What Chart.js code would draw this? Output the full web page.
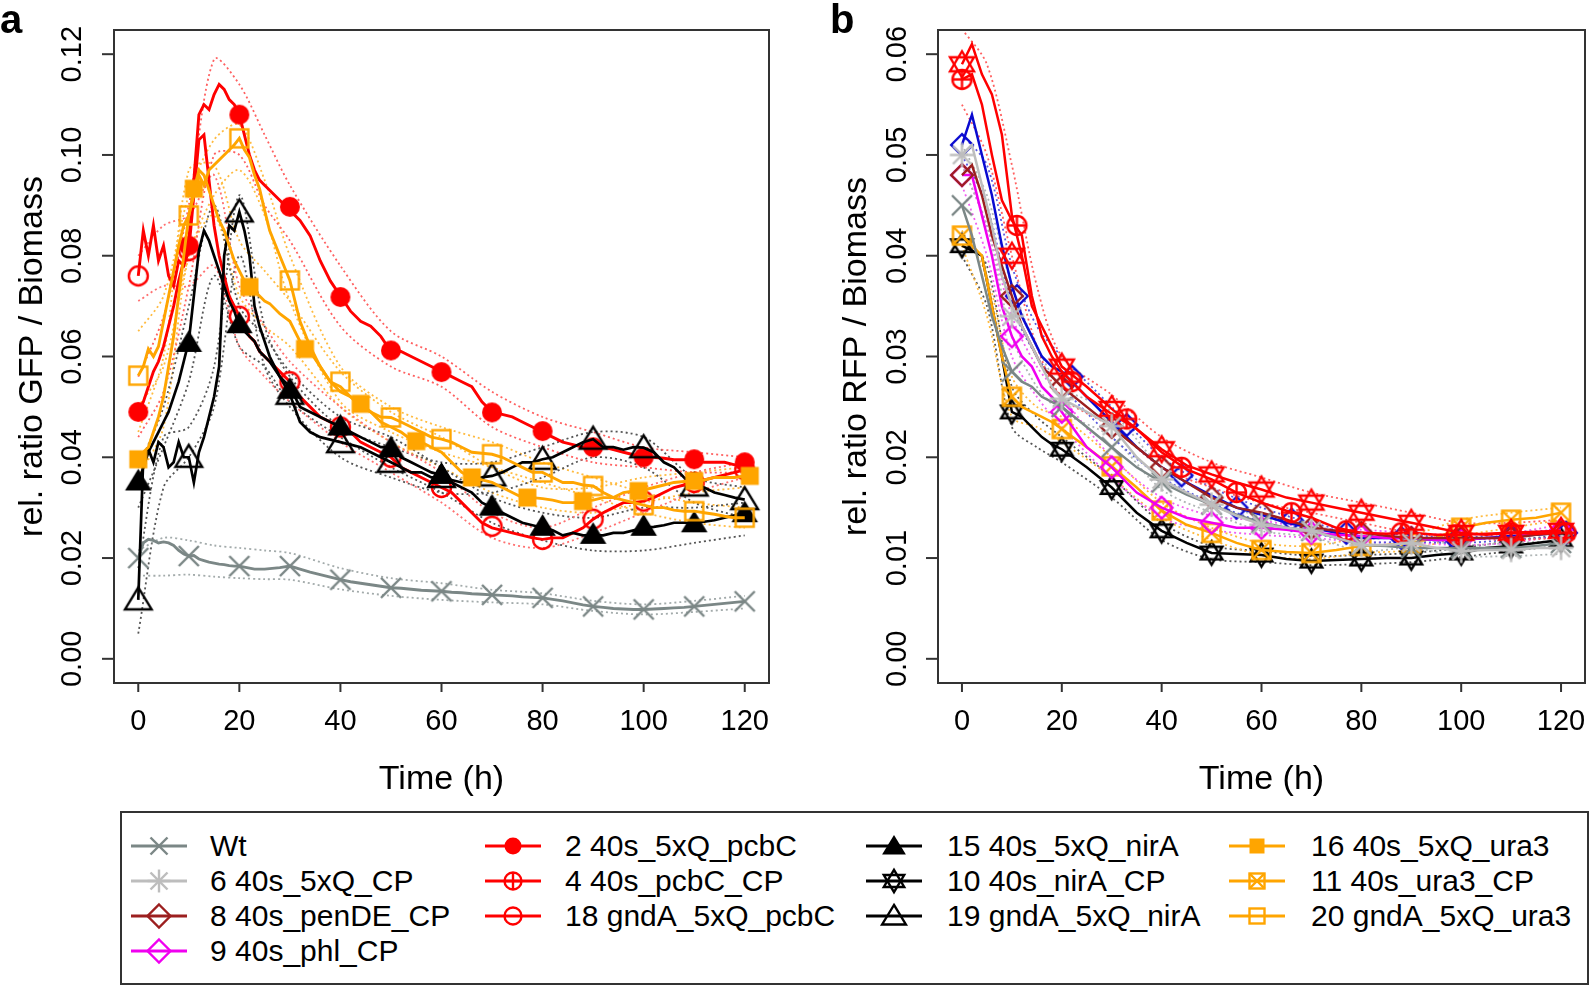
<!DOCTYPE html>
<html>
<head>
<meta charset="utf-8">
<script src="https://cdn.jsdelivr.net/npm/chart.js"></script>
<style>
  body { margin: 0; width: 1595px; height: 990px; background: #fff; position: relative; overflow: hidden;
         font-family: "Liberation Sans", Arial, sans-serif; }
  canvas.panel { position: absolute; top: 0; }
  #cA { left: 0; }
  #cB { left: 800px; }
  #legendBox { position: absolute; left: 120px; top: 811px; width: 1469px; height: 174px;
               box-sizing: border-box; border: 2px solid #333; }
  .lgText { position: absolute; font-size: 30px; line-height: 34px; color: #000; white-space: nowrap; }
  .lgSym { position: absolute; }
</style>
</head>
<body>
<canvas id="cA" class="panel" width="800" height="800"></canvas>
<canvas id="cB" class="panel" width="795" height="800"></canvas>
<div id="legendBox"></div>
<script>
// time grids (h)
const tA = [0,1,2,3,4,5,6,7,8,9,10,11,12,13,14,15,16,17,18,19,20,21,22,23,24,25,26,
  28,30,32,34,36,38,40,42,44,46,48,50,52,54,56,58,60,62,64,66,68,70,72,74,76,78,80,
  82,84,86,88,90,92,94,96,98,100,102,104,106,108,110,112,114,116,118,120];
const tB = [0,2,4,6,8,10,12,14,16,18,20,25,30,35,40,45,50,55,60,65,70,75,80,85,90,95,100,105,110,115,120];
const tBandA = [0,5,10,15,20,25,30,40,50,60,70,80,90,100,110,120];
const tBandB = [0,5,10,15,20,30,40,50,60,70,80,90,100,110,120];
const mk10 = [0,10,20,30,40,50,60,70,80,90,100,110,120];
const mk11 = [0,11,22,33,44,55,66,77,88,99,110,121];

// ---- panel a: rel. ratio GFP / Biomass ----
const wtA = [0.020,0.023,0.0237,0.0235,0.023,0.0232,0.023,0.0225,0.0215,0.0208,0.0204,0.0205,0.0198,0.0195,0.0192,0.019,0.0188,0.0187,0.0185,0.0184,0.0184,0.0182,0.018,0.0178,0.0178,0.0178,0.0179,
  0.0181,0.0184,0.0178,0.0172,0.0167,0.0162,0.0157, 0.0153,0.015,0.0147,0.0144,0.0141, 0.014,0.0138,0.0136,0.0135,0.0134,
  0.0132,0.0131,0.0129,0.0128,0.0127, 0.0126,0.0125,0.0123,0.0122,0.0121, 0.0118,0.0115,0.0111,0.0107,0.0104,
  0.0102,0.01,0.0099,0.0098,0.0098, 0.0099,0.01,0.0101,0.0102,0.0104, 0.0106,0.0108,0.011,0.0112,0.0114];
const s2A = [0.049,0.051,0.054,0.057,0.059,0.062,0.066,0.070,0.075,0.079,0.083,0.095,0.108,0.110,0.109,0.112,0.114,0.113,0.111,0.110,0.108,0.104,0.100,0.097,0.095,0.094,0.093,
  0.091,0.089,0.087,0.084,0.079,0.075,0.072, 0.069,0.067,0.066,0.064,0.061, 0.061,0.060,0.059,0.058,0.057,
  0.056,0.055,0.054,0.051,0.049, 0.0485,0.048,0.047,0.046,0.045, 0.044,0.043,0.0425,0.042,0.042,
  0.042,0.0415,0.041,0.0405,0.040, 0.040,0.0398,0.0395,0.0395,0.0395, 0.039,0.039,0.039,0.0385,0.0385];
const s18A = [0.076,0.085,0.080,0.086,0.079,0.082,0.076,0.074,0.079,0.078,0.081,0.092,0.103,0.104,0.095,0.086,0.080,0.076,0.072,0.070,0.068,0.066,0.064,0.063,0.061,0.060,0.059,
  0.057,0.055,0.052,0.050,0.048,0.047,0.046, 0.045,0.043,0.042,0.041,0.040, 0.038,0.037,0.036,0.035,0.034,
  0.033,0.031,0.029,0.027,0.026, 0.0255,0.025,0.0245,0.024,0.0237, 0.024,0.024,0.025,0.026,0.0277,
  0.029,0.030,0.031,0.031,0.0313, 0.032,0.033,0.034,0.0345,0.035, 0.0355,0.036,0.0365,0.037,0.0375];
const s15A = [0.035,0.038,0.041,0.043,0.045,0.047,0.049,0.052,0.055,0.059,0.063,0.072,0.081,0.085,0.083,0.080,0.077,0.074,0.071,0.069,0.066,0.065,0.064,0.063,0.061,0.060,0.059,
  0.056,0.054,0.050,0.049,0.048,0.047,0.046, 0.045,0.044,0.043,0.042,0.042, 0.040,0.039,0.038,0.037,0.0365,
  0.035,0.034,0.033,0.031,0.030, 0.029,0.028,0.027,0.0265,0.026, 0.0255,0.0245,0.025,0.0245,0.0245,
  0.0245,0.025,0.025,0.0255,0.026, 0.0262,0.0265,0.027,0.027,0.027, 0.0272,0.0275,0.028,0.0285,0.029];
const s19A = [0.0117,0.040,0.0416,0.039,0.043,0.042,0.038,0.039,0.043,0.040,0.040,0.035,0.041,0.044,0.048,0.052,0.058,0.080,0.086,0.085,0.0887,0.085,0.080,0.070,0.066,0.063,0.060,
  0.056,0.0525,0.047,0.045,0.044,0.0435,0.043, 0.0425,0.042,0.041,0.040,0.039, 0.038,0.037,0.037,0.036,0.036,
  0.0355,0.035,0.0355,0.036,0.0363, 0.037,0.038,0.039,0.039,0.0396, 0.040,0.041,0.042,0.043,0.0436,
  0.042,0.042,0.0415,0.042,0.0419, 0.041,0.039,0.038,0.036,0.0343, 0.034,0.033,0.0325,0.032,0.0316];
const s16A = [0.0396,0.041,0.042,0.045,0.048,0.052,0.058,0.064,0.072,0.080,0.088,0.093,0.097,0.096,0.093,0.090,0.087,0.085,0.082,0.079,0.077,0.075,0.0738,0.073,0.072,0.071,0.0705,
  0.0685,0.067,0.063,0.061,0.058,0.055,0.053, 0.052,0.0506,0.049,0.047,0.046, 0.045,0.0435,0.043,0.042,0.041,
  0.039,0.037,0.036,0.0355,0.035, 0.034,0.033,0.032,0.032,0.0318, 0.0315,0.031,0.031,0.0313,0.0315,
  0.032,0.032,0.033,0.0333,0.0335, 0.034,0.0345,0.035,0.0352,0.0353, 0.0355,0.036,0.036,0.036,0.0363];
const s20A = [0.0562,0.058,0.0615,0.060,0.062,0.067,0.072,0.077,0.082,0.086,0.088,0.092,0.096,0.094,0.097,0.098,0.099,0.100,0.101,0.102,0.1033,0.101,0.0995,0.096,0.0933,0.089,0.085,
  0.080,0.0751,0.067,0.062,0.058,0.055,0.054, 0.052,0.050,0.049,0.048,0.0479, 0.047,0.046,0.045,0.044,0.0436,
  0.043,0.042,0.041,0.0408,0.0406, 0.040,0.039,0.038,0.037,0.037, 0.036,0.035,0.035,0.0345,0.0343,
  0.033,0.032,0.0315,0.031,0.0305, 0.030,0.030,0.0295,0.0293,0.0293, 0.029,0.0287,0.0283,0.028,0.028];

// markers, panel a
const wtAMk  = [0.020,0.0204,0.0184,0.0184,0.0157,0.0141,0.0134,0.0127,0.0121,0.0104,0.0098,0.0104,0.0114];
const s2AMk  = [0.049,0.082,0.108,0.0897,0.0718,0.0612,0.0569,0.0489,0.0452,0.042,0.040,0.0396,0.039];
const s18AMk = [0.076,0.081,0.068,0.055,0.046,0.040,0.034,0.0263,0.0237,0.0277,0.0313,0.035,0.0375];
const s15AMk = [0.0353,0.0628,0.0665,0.0535,0.0462,0.0419,0.0366,0.0303,0.0263,0.0247,0.0263,0.027,0.029];
const s19AMk = [0.0117,0.040,0.0887,0.0525,0.0429,0.039,0.036,0.0363,0.0396,0.0436,0.0419,0.0343,0.0316];
const s16AMk = [0.0396,0.0933,0.0738,0.0615,0.0506,0.0432,0.036,0.032,0.0313,0.0333,0.0353,0.0363];
const s20AMk = [0.0562,0.088,0.1033,0.0751,0.055,0.0479,0.0436,0.0406,0.037,0.0343,0.0305,0.0293,0.028];

// dotted bands, panel a
const wtAUp  = [0.0215,0.024,0.0235,0.0225,0.022,0.0215,0.021,0.018,0.016,0.015,0.0137,0.013,0.0115,0.0108,0.0115,0.0125];
const wtALo  = [0.0165,0.0165,0.0167,0.0163,0.016,0.0158,0.0157,0.0138,0.0125,0.0117,0.0112,0.0108,0.0095,0.0088,0.0093,0.0100];
const s2AUp  = [0.056,0.068,0.090,0.119,0.114,0.104,0.094,0.078,0.065,0.060,0.053,0.048,0.045,0.042,0.041,0.040];
const s2ALo  = [0.044,0.053,0.074,0.100,0.100,0.090,0.083,0.066,0.058,0.054,0.046,0.042,0.039,0.038,0.037,0.037];
const s18AUp = [0.080,0.086,0.088,0.096,0.074,0.066,0.059,0.050,0.043,0.037,0.029,0.026,0.030,0.034,0.037,0.039];
const s18ALo = [0.071,0.074,0.074,0.078,0.062,0.056,0.051,0.043,0.037,0.031,0.024,0.022,0.025,0.029,0.033,0.036];
const s15AUp = [0.038,0.050,0.070,0.090,0.070,0.064,0.057,0.048,0.044,0.038,0.032,0.029,0.028,0.030,0.030,0.031];
const s15ALo = [0.030,0.042,0.055,0.076,0.062,0.058,0.051,0.044,0.038,0.033,0.027,0.0235,0.0215,0.0215,0.023,0.0245];
const s19AUp = [0.018,0.044,0.046,0.058,0.092,0.066,0.056,0.046,0.042,0.039,0.039,0.042,0.045,0.044,0.036,0.034];
const s19ALo = [0.005,0.034,0.040,0.050,0.080,0.058,0.050,0.040,0.036,0.033,0.033,0.036,0.040,0.038,0.031,0.028];
const s16AUp = [0.045,0.060,0.097,0.098,0.083,0.077,0.071,0.057,0.049,0.044,0.038,0.034,0.034,0.036,0.037,0.038];
const s16ALo = [0.036,0.046,0.080,0.088,0.072,0.066,0.062,0.050,0.043,0.038,0.033,0.030,0.029,0.031,0.033,0.034];
const s20AUp = [0.065,0.072,0.092,0.103,0.106,0.095,0.080,0.058,0.050,0.046,0.043,0.039,0.036,0.033,0.031,0.030];
const s20ALo = [0.050,0.058,0.080,0.092,0.097,0.088,0.071,0.051,0.045,0.041,0.038,0.035,0.032,0.029,0.027,0.026];

// ---- panel b: rel. ratio RFP / Biomass ----
const wtB   = [0.045,0.042,0.038,0.034,0.031,0.0285,0.0275,0.027,0.026,0.0255,0.025,0.023,0.021,0.019,0.0175,0.0163,0.0153,0.0143,0.0135,0.013,0.0127,0.012,0.0113,0.0112,0.011,0.011,0.011,0.011,0.011,0.0112,0.0115];
const s6B   = [0.050,0.051,0.047,0.043,0.038,0.035,0.033,0.031,0.029,0.027,0.0258,0.0245,0.0231,0.020,0.0178,0.0165,0.0153,0.0142,0.0133,0.013,0.0127,0.012,0.0113,0.0113,0.0115,0.011,0.0107,0.0108,0.0108,0.011,0.011];
const s8B   = [0.048,0.049,0.046,0.042,0.039,0.036,0.033,0.031,0.029,0.028,0.027,0.025,0.023,0.021,0.019,0.0175,0.016,0.015,0.0145,0.0138,0.013,0.0127,0.0125,0.0122,0.012,0.012,0.012,0.012,0.012,0.0123,0.0125];
const s9B   = [0.048,0.048,0.044,0.040,0.035,0.032,0.030,0.029,0.027,0.026,0.0245,0.021,0.019,0.0165,0.015,0.014,0.0135,0.013,0.013,0.0128,0.0125,0.0123,0.0122,0.012,0.012,0.0118,0.0118,0.012,0.012,0.0125,0.0128];
const blueB = [0.051,0.054,0.050,0.046,0.041,0.037,0.034,0.032,0.030,0.029,0.0285,0.026,0.0235,0.021,0.019,0.0175,0.0162,0.015,0.0143,0.0135,0.013,0.0125,0.012,0.012,0.012,0.0118,0.0118,0.012,0.0122,0.0123,0.0125];
const s4B   = [0.0575,0.058,0.055,0.050,0.0455,0.0435,0.042,0.036,0.032,0.030,0.0285,0.026,0.0243,0.0228,0.0205,0.0188,0.0178,0.0165,0.0155,0.0147,0.014,0.013,0.0125,0.0124,0.0125,0.0123,0.0123,0.0124,0.0125,0.0124,0.0125];
const redStarB = [0.059,0.061,0.058,0.056,0.052,0.044,0.040,0.035,0.033,0.031,0.029,0.027,0.0248,0.0228,0.0208,0.0192,0.0183,0.0175,0.0168,0.016,0.0155,0.015,0.0145,0.014,0.0135,0.013,0.0125,0.0123,0.0125,0.0126,0.0127];
const s10B  = [0.041,0.0405,0.040,0.035,0.030,0.0245,0.024,0.023,0.022,0.0213,0.0208,0.019,0.017,0.0145,0.0127,0.0115,0.0105,0.0104,0.0103,0.0099,0.0097,0.0098,0.0099,0.01,0.01,0.0103,0.0105,0.011,0.0112,0.0115,0.0118];
const s11B  = [0.042,0.041,0.040,0.035,0.030,0.026,0.025,0.0245,0.024,0.0235,0.0228,0.021,0.0191,0.017,0.0147,0.0133,0.0125,0.0115,0.0108,0.0106,0.0105,0.0108,0.0112,0.0113,0.0115,0.012,0.013,0.0135,0.0138,0.014,0.0145];

// markers, panel b
const wtBMk   = [0.045,0.0285,0.025,0.021,0.0175,0.0153,0.0135,0.0127,0.0113,0.011,0.011,0.011,0.0115];
const s6BMk   = [0.050,0.034,0.0258,0.0231,0.0178,0.0153,0.0133,0.0127,0.0113,0.0115,0.0107,0.0108,0.011];
const s8BMk   = [0.048,0.036,0.027,0.023,0.019,0.016,0.0145,0.013,0.0125,0.012,0.012,0.012,0.0125];
const s9BMk   = [0.048,0.032,0.0245,0.019,0.015,0.0135,0.013,0.0125,0.0122,0.012,0.0118,0.012,0.0128];
const blueBMk = [0.051,0.036,0.028,0.0232,0.0182,0.015,0.0138,0.0125,0.012,0.0118,0.0122,0.0125];
const s4BMk   = [0.0575,0.043,0.0275,0.0238,0.019,0.0165,0.0145,0.0127,0.0125,0.0123,0.0125,0.0125];
const redStarBMk = [0.059,0.040,0.029,0.0248,0.0208,0.0183,0.0168,0.0155,0.0145,0.0135,0.0125,0.0125,0.0127];
const s10BMk  = [0.041,0.0245,0.0208,0.017,0.0127,0.0105,0.0103,0.0097,0.0099,0.01,0.0105,0.0112,0.0118];
const s11BMk  = [0.042,0.026,0.0228,0.0191,0.0147,0.0125,0.0108,0.0105,0.0112,0.0115,0.013,0.0138,0.0145];

// dotted bands, panel b
const redBUp  = [0.0625,0.059,0.049,0.037,0.030,0.0262,0.022,0.0195,0.018,0.0165,0.0155,0.0145,0.0135,0.0135,0.0138];
const redBLo  = [0.055,0.050,0.040,0.031,0.026,0.023,0.019,0.017,0.0155,0.0145,0.0135,0.0125,0.012,0.0118,0.012];
const blueBUp = [0.052,0.049,0.039,0.033,0.030,0.025,0.020,0.017,0.015,0.0135,0.0125,0.0123,0.012,0.0125,0.0128];
const blueBLo = [0.050,0.045,0.035,0.030,0.027,0.022,0.018,0.0155,0.0136,0.0125,0.0116,0.0116,0.0115,0.0118,0.0121];
const grayBUp = [0.051,0.046,0.037,0.031,0.027,0.0245,0.019,0.0162,0.014,0.0133,0.012,0.012,0.0113,0.0115,0.0117];
const grayBLo = [0.049,0.043,0.032,0.027,0.0245,0.022,0.0168,0.0145,0.0127,0.0121,0.0107,0.011,0.0102,0.0102,0.0104];
const magBUp  = [0.049,0.043,0.034,0.029,0.026,0.020,0.016,0.0142,0.0137,0.013,0.0128,0.0125,0.0123,0.0125,0.0133];
const magBLo  = [0.047,0.040,0.030,0.026,0.023,0.018,0.014,0.0128,0.0123,0.012,0.0116,0.0115,0.0113,0.0115,0.0123];
const orBUp   = [0.0425,0.038,0.028,0.025,0.024,0.020,0.0155,0.013,0.0115,0.0112,0.012,0.0123,0.0138,0.0145,0.015];
const orBLo   = [0.041,0.034,0.024,0.023,0.0215,0.018,0.014,0.0118,0.0103,0.0099,0.0105,0.0108,0.0122,0.013,0.0138];
const blkBUp  = [0.042,0.039,0.027,0.024,0.022,0.018,0.0135,0.0112,0.0107,0.0102,0.0103,0.0105,0.011,0.0117,0.0123];
const blkBLo  = [0.040,0.035,0.023,0.021,0.0195,0.016,0.0118,0.0099,0.0096,0.0093,0.0094,0.0096,0.0101,0.0107,0.0112];

// axes
const xTicks = [0, 20, 40, 60, 80, 100, 120];
const yTicksA = [0, 0.02, 0.04, 0.06, 0.08, 0.10, 0.12];
const yLabelsA = ['0.00', '0.02', '0.04', '0.06', '0.08', '0.10', '0.12'];
const yTicksB = [0, 0.01, 0.02, 0.03, 0.04, 0.05, 0.06];
const yLabelsB = ['0.00', '0.01', '0.02', '0.03', '0.04', '0.05', '0.06'];

// legend
const legendLabels = ['Wt', '6 40s_5xQ_CP', '8 40s_penDE_CP', '9 40s_phl_CP',
  '2 40s_5xQ_pcbC', '4 40s_pcbC_CP', '18 gndA_5xQ_pcbC',
  '15 40s_5xQ_nirA', '10 40s_nirA_CP', '19 gndA_5xQ_nirA',
  '16 40s_5xQ_ura3', '11 40s_ura3_CP', '20 gndA_5xQ_ura3'];

const GRAY = '#7b8786', LGRAY = '#bdbdbd', DRED = '#9c1f1f', MAG = '#f000f0';
const RED = '#ff0000', ORANGE = '#ffa500', BLACK = '#000000', BLUE = '#0a0ad0';
const legendColors = [GRAY, LGRAY, DRED, MAG, RED, RED, RED, BLACK, BLACK, BLACK, ORANGE, ORANGE, ORANGE];
const legendPch = [4, 8, 5, 5, 16, 10, 1, 17, 11, 2, 15, 7, 0];

const FONT = '"Liberation Sans", Arial, sans-serif';

// R-like plotting symbols
function drawPch(g, pch, x, y, s, color) {
    g.save();
    g.strokeStyle = color;
    g.fillStyle = color;
    g.lineWidth = 2.4;
    const poly = (pts) => {
        g.beginPath();
        pts.forEach((p, i) => (i ? g.lineTo(x + p[0] * s, y + p[1] * s) : g.moveTo(x + p[0] * s, y + p[1] * s)));
        g.closePath();
    };
    const seg = (x1, y1, x2, y2) => {
        g.beginPath();
        g.moveTo(x + x1 * s, y + y1 * s);
        g.lineTo(x + x2 * s, y + y2 * s);
        g.stroke();
    };
    const up = [[0, -1.3], [1.4, 1.0], [-1.4, 1.0]];
    switch (pch) {
        case 0: g.strokeRect(x - s, y - s, 2 * s, 2 * s); break;
        case 1: g.beginPath(); g.arc(x, y, s, 0, 2 * Math.PI); g.stroke(); break;
        case 2: poly(up); g.stroke(); break;
        case 4: seg(-1, -1, 1, 1); seg(-1, 1, 1, -1); break;
        case 5: poly([[0, -1.35], [1.35, 0], [0, 1.35], [-1.35, 0]]); g.stroke(); break;
        case 7: g.strokeRect(x - s, y - s, 2 * s, 2 * s); seg(-1, -1, 1, 1); seg(-1, 1, 1, -1); break;
        case 8: seg(-1, -1, 1, 1); seg(-1, 1, 1, -1); seg(-1.35, 0, 1.35, 0); seg(0, -1.35, 0, 1.35); break;
        case 10: g.beginPath(); g.arc(x, y, s, 0, 2 * Math.PI); g.stroke(); seg(-1, 0, 1, 0); seg(0, -1, 0, 1); break;
        case 11:
            poly([[0, -1.3], [1.2, 0.7], [-1.2, 0.7]]); g.stroke();
            poly([[0, 1.3], [1.2, -0.7], [-1.2, -0.7]]); g.stroke();
            break;
        case 15: g.fillRect(x - s, y - s, 2 * s, 2 * s); break;
        case 16: g.beginPath(); g.arc(x, y, s, 0, 2 * Math.PI); g.fill(); break;
        case 17: poly(up); g.fill(); break;
    }
    g.restore();
}

function pchImage(pch, color, s) {
    const size = Math.ceil(s * 3.4 + 4);
    const c = document.createElement('canvas');
    c.width = size;
    c.height = size;
    drawPch(c.getContext('2d'), pch, size / 2, size / 2, s, color);
    return c;
}

const pts = (t, v) => t.map((x, i) => ({ x: x, y: v[i] }));

function lineSet(t, v, color, width, order) {
    return { data: pts(t, v), borderColor: color, borderWidth: width, pointRadius: 0,
             fill: false, tension: 0, order: order };
}
function bandSet(t, v, color) {
    return { data: pts(t, v), borderColor: color, borderWidth: 1.8, borderDash: [2, 3],
             pointRadius: 0, fill: false, tension: 0.3, order: 900 };
}
function markSet(t, v, pch, color, s, order) {
    return { data: pts(t, v), showLine: false, pointStyle: pchImage(pch, color, s),
             pointRadius: 6, order: order };
}

// draws the R style box, ticks, labels and titles
const rAxes = {
    id: 'rAxes',
    afterDraw(chart, args, o) {
        const { ctx, chartArea: a } = chart;
        const x = chart.scales.x, y = chart.scales.y;
        ctx.save();
        ctx.strokeStyle = '#333';
        ctx.lineWidth = 2;
        ctx.strokeRect(a.left, a.top, a.right - a.left, a.bottom - a.top);
        ctx.fillStyle = '#000';
        ctx.font = '29px ' + FONT;
        ctx.textAlign = 'center';
        ctx.textBaseline = 'alphabetic';
        const cap = 29 * 0.716;
        xTicks.forEach((v) => {
            const px = x.getPixelForValue(v);
            ctx.beginPath(); ctx.moveTo(px, a.bottom); ctx.lineTo(px, a.bottom + 9); ctx.stroke();
            ctx.fillText(String(v), px, 720 + cap / 2);
        });
        o.yTicks.forEach((v, i) => {
            const py = y.getPixelForValue(v);
            ctx.beginPath(); ctx.moveTo(a.left - 12, py); ctx.lineTo(a.left, py); ctx.stroke();
            ctx.save();
            ctx.translate(o.tickX, py);
            ctx.rotate(-Math.PI / 2);
            ctx.fillText(o.yLabels[i], 0, cap / 2);
            ctx.restore();
        });
        ctx.font = '34px ' + FONT;
        ctx.fillText('Time (h)', (a.left + a.right) / 2, 777 + 12);
        ctx.save();
        ctx.translate(o.titleX, (a.top + a.bottom) / 2);
        ctx.rotate(-Math.PI / 2);
        ctx.fillText(o.title, 0, 12);
        ctx.restore();
        ctx.font = 'bold 40px ' + FONT;
        ctx.textAlign = 'left';
        ctx.fillText(o.letter, o.letterX, 33);
        ctx.restore();
    }
};

function makePanel(id, padding, yMin, yMax, datasets, axes) {
    return new Chart(document.getElementById(id), {
        type: 'line',
        data: { datasets: datasets },
        options: {
            responsive: false,
            animation: false,
            events: [],
            layout: { padding: padding },
            scales: {
                x: { type: 'linear', min: -4.8, max: 124.8, display: false },
                y: { type: 'linear', min: yMin, max: yMax, display: false }
            },
            plugins: { legend: { display: false }, tooltip: { enabled: false }, rAxes: axes }
        },
        plugins: [rAxes]
    });
}

// panel a
const dsA = [
    bandSet(tBandA, wtAUp, '#a3abab'), bandSet(tBandA, wtALo, '#a3abab'),
    bandSet(tBandA, s2AUp, '#ff6060'), bandSet(tBandA, s2ALo, '#ff6060'),
    bandSet(tBandA, s18AUp, '#ff7070'), bandSet(tBandA, s18ALo, '#ff7070'),
    bandSet(tBandA, s15AUp, '#555555'), bandSet(tBandA, s15ALo, '#555555'),
    bandSet(tBandA, s19AUp, '#555555'), bandSet(tBandA, s19ALo, '#555555'),
    bandSet(tBandA, s16AUp, '#ffbb40'), bandSet(tBandA, s16ALo, '#ffbb40'),
    bandSet(tBandA, s20AUp, '#ffbb40'), bandSet(tBandA, s20ALo, '#ffbb40'),
    lineSet(tA, wtA, GRAY, 2.9, 500), markSet(mk10, wtAMk, 4, GRAY, 10, 499),
    lineSet(tA, s2A, RED, 2.9, 490), markSet(mk10, s2AMk, 16, RED, 10, 489),
    lineSet(tA, s18A, RED, 2.9, 480), markSet(mk10, s18AMk, 1, RED, 9.5, 479),
    lineSet(tA, s15A, BLACK, 2.7, 470), markSet(mk10, s15AMk, 17, BLACK, 9.5, 469),
    lineSet(tA, s19A, BLACK, 2.7, 460), markSet(mk10, s19AMk, 2, BLACK, 9.5, 459),
    lineSet(tA, s16A, ORANGE, 2.9, 450), markSet(mk11, s16AMk, 15, ORANGE, 9, 449),
    lineSet(tA, s20A, ORANGE, 2.9, 440), markSet(mk10, s20AMk, 0, ORANGE, 9, 439)
];
makePanel('cA', { left: 114, top: 30, right: 31, bottom: 117 }, -0.0048, 0.1248, dsA,
    { yTicks: yTicksA, yLabels: yLabelsA, tickX: 71, titleX: 30, title: 'rel. ratio GFP / Biomass', letter: 'a', letterX: 0 });

// panel b
const dsB = [
    bandSet(tBandB, redBUp, '#ff6060'), bandSet(tBandB, redBLo, '#ff6060'),
    bandSet(tBandB, blueBUp, '#5a5ae0'), bandSet(tBandB, blueBLo, '#5a5ae0'),
    bandSet(tBandB, grayBUp, '#b0b6b6'), bandSet(tBandB, grayBLo, '#b0b6b6'),
    bandSet(tBandB, magBUp, '#f060f0'), bandSet(tBandB, magBLo, '#f060f0'),
    bandSet(tBandB, orBUp, '#ffbb40'), bandSet(tBandB, orBLo, '#ffbb40'),
    bandSet(tBandB, blkBUp, '#555555'), bandSet(tBandB, blkBLo, '#555555'),
    lineSet(tB, s10B, BLACK, 2.5, 500), markSet(mk10, s10BMk, 11, BLACK, 9, 499),
    lineSet(tB, s11B, ORANGE, 2.5, 490), markSet(mk10, s11BMk, 7, ORANGE, 9, 489),
    lineSet(tB, blueB, BLUE, 2.5, 480), markSet(mk11, blueBMk, 5, BLUE, 8, 479),
    lineSet(tB, s9B, MAG, 2.5, 470), markSet(mk10, s9BMk, 5, MAG, 8, 469),
    lineSet(tB, s8B, DRED, 2.5, 460), markSet(mk10, s8BMk, 5, DRED, 8, 459),
    lineSet(tB, wtB, GRAY, 2.5, 450), markSet(mk10, wtBMk, 4, GRAY, 10, 449),
    lineSet(tB, s4B, RED, 2.5, 440), markSet(mk11, s4BMk, 10, RED, 9.5, 439),
    lineSet(tB, redStarB, RED, 2.5, 430), markSet(mk10, redStarBMk, 11, RED, 10, 429),
    lineSet(tB, s6B, LGRAY, 2.5, 420), markSet(mk10, s6BMk, 8, LGRAY, 9, 419)
];
makePanel('cB', { left: 138, top: 30, right: 10, bottom: 117 }, -0.0024, 0.0624, dsB,
    { yTicks: yTicksB, yLabels: yLabelsB, tickX: 96, titleX: 54, title: 'rel. ratio RFP / Biomass', letter: 'b', letterX: 30 });

// legend (4 columns)
const colLine = [131, 485, 866, 1229];
const colText = [210, 565, 947, 1311];
const rowY = [846, 881, 916, 951];
const colOf = [0, 0, 0, 0, 1, 1, 1, 2, 2, 2, 3, 3, 3];
const rowOf = [0, 1, 2, 3, 0, 1, 2, 0, 1, 2, 0, 1, 2];

legendLabels.forEach((label, i) => {
    const c = colOf[i], r = rowOf[i];
    const sym = document.createElement('canvas');
    sym.width = 56;
    sym.height = 34;
    sym.className = 'lgSym';
    sym.style.left = colLine[c] + 'px';
    sym.style.top = (rowY[r] - 17) + 'px';
    const g = sym.getContext('2d');
    g.strokeStyle = legendColors[i];
    g.lineWidth = 2.8;
    g.beginPath(); g.moveTo(0, 17); g.lineTo(56, 17); g.stroke();
    drawPch(g, legendPch[i], 28, 17, legendPch[i] === 15 || legendPch[i] === 0 || legendPch[i] === 7 ? 7.5 : 8.5, legendColors[i]);
    document.body.appendChild(sym);

    const span = document.createElement('span');
    span.className = 'lgText';
    span.textContent = label;
    span.style.left = colText[c] + 'px';
    span.style.top = (rowY[r] - 17) + 'px';
    document.body.appendChild(span);
});
</script>
</body>
</html>
